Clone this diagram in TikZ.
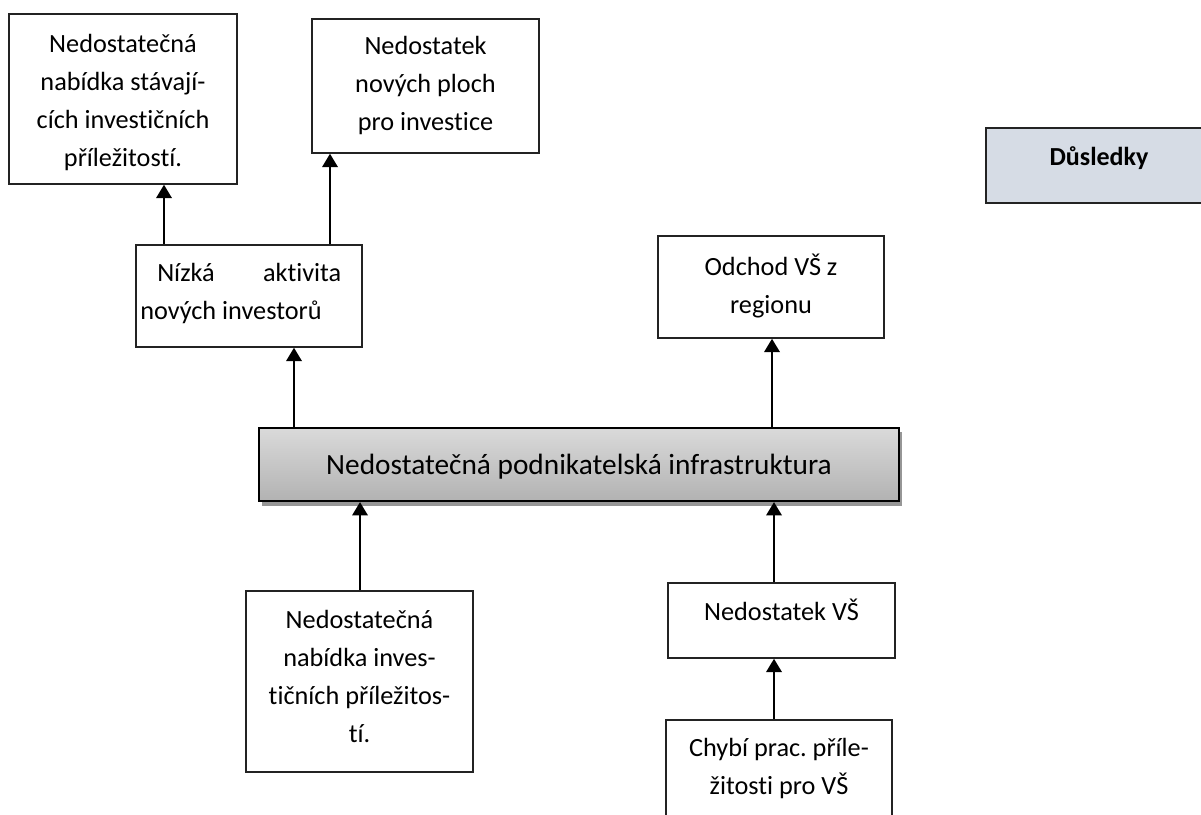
\documentclass[tikz,border=0pt]{standalone}
\usepackage{fontspec}
\setmainfont{Carlito}[Ligatures=NoCommon]
\usetikzlibrary{arrows.meta,fit,calc}
\definecolor{edge}{RGB}{35,35,35}
\definecolor{dusl}{RGB}{214,220,229}
\definecolor{shadowgray}{RGB}{150,150,150}
\definecolor{maintop}{RGB}{218,218,218}
\definecolor{mainbot}{RGB}{178,178,178}
\newcommand\topst{\rule{0pt}{18pt}}
\frenchspacing
\begin{document}
\begin{tikzpicture}[x=0.75pt,y=-0.75pt,
  box/.style={draw=edge, line width=1.1pt, inner sep=0pt},
  txt/.style={font=\fontsize{19.7}{28.5}\selectfont, align=center, inner sep=0pt, anchor=north, text=black},
  arr/.style={line width=1.8pt, draw=black, -{Triangle[length=10pt,width=11.5pt]}},
]
\useasboundingbox (0,0) rectangle (1201,814);
\clip (0,0) rectangle (1201,814);

% boxes
\node[box, fit={(9,14) (237,184)}] (A) {};
\node[box, fit={(312,19) (539,153)}] (B) {};
\node[box, fit={(136,245) (362,347)}] (niz) {};
\node[box, fit={(658,236) (884,338)}] (odch) {};
\node[box, fill=dusl, fit={(986,128) (1213,203)}] (dus) {};
\node[fill=shadowgray, inner sep=0pt, fit={(262,432) (902,506)}] (mainsh) {};
\node[draw=black, line width=1.6pt, top color=maintop, bottom color=mainbot, inner sep=0pt, fit={(259,428) (899,501)}] (main) {};
\node[box, fit={(246,591) (473,772)}] (C) {};
\node[box, fit={(668,583) (895,658)}] (vs) {};
\node[box, fit={(666,720) (892,840)}] (chyb) {};

% texts
\node[txt] (tA) at (123,28) {\topst Nedostatečná\\nabídka stávají-\\cích investičních\\příležitostí.};
\node[txt] (tB) at (425.5,30) {\topst Nedostatek\\nových ploch\\pro investice};
\node[txt, align=left, anchor=north west] (tniz) at (140,257) {\topst\hspace*{12.75pt}\makebox[138pt]{Nízká\hfill aktivita}\\nových investorů};
\node[txt] (todch) at (771,251) {\topst Odchod VŠ z\\regionu};
\node[font=\fontsize{22}{26}\selectfont, anchor=base, inner sep=0pt] (tmain) at (579,474) {Nedostatečná podnikatelská infrastruktura};
\node[font=\fontsize{19.5}{24}\selectfont\bfseries, anchor=base, inner sep=0pt] (tdus) at (1099,165) {Důsledky};
\node[txt] (tC) at (359.5,604) {\topst Nedostatečná\\nabídka inves-\\tičních příležitos-\\tí.};
\node[txt] (tvs) at (781.5,596) {\topst Nedostatek VŠ};
\node[txt] (tchyb) at (779,732) {\topst Chybí prac. příle-\\žitosti pro VŠ};

% arrow x positions
\coordinate (xa) at (164,0);
\coordinate (xb) at (330,0);
\coordinate (xn) at (294,0);
\coordinate (xo) at (772,0);
\coordinate (xc) at (360,0);
\coordinate (xv) at (774,0);

% connectors
\draw[arr] (niz.north -| xa) -- (A.south -| xa);
\draw[arr] (niz.north -| xb) -- (B.south -| xb);
\draw[arr] (main.north -| xn) -- (niz.south -| xn);
\draw[arr] (main.north -| xo) -- (odch.south -| xo);
\draw[arr] (C.north -| xc) -- (main.south -| xc);
\draw[arr] (vs.north -| xv) -- (main.south -| xv);
\draw[arr] (chyb.north -| xv) -- (vs.south -| xv);
\end{tikzpicture}
\end{document}
